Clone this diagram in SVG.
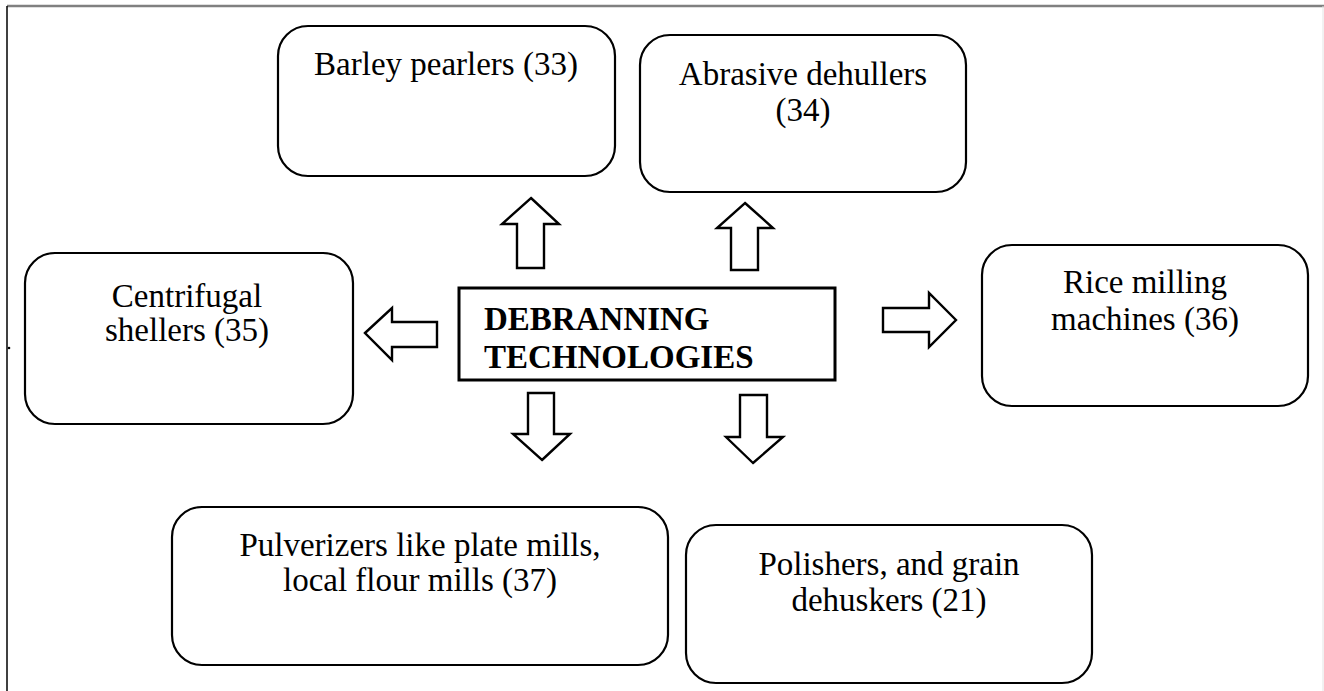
<svg xmlns="http://www.w3.org/2000/svg" width="1324" height="691" viewBox="0 0 1324 691">
<style>
.box{fill:#fff;stroke:#000;stroke-width:2.2}
.core{fill:#fff;stroke:#000;stroke-width:3}
.arr{fill:#fff;stroke:#000;stroke-width:2.4;stroke-linejoin:miter}
.t{font-family:"Liberation Serif","Times New Roman",serif;font-size:33px;fill:#000;text-anchor:middle}
.b{font-family:"Liberation Serif","Times New Roman",serif;font-size:33px;font-weight:bold;fill:#000}
</style>
<rect width="1324" height="691" fill="#fff"/>
<g id="frame">
<line x1="7" y1="6" x2="1324" y2="6" stroke="#808080" stroke-width="2.5"/>
<line x1="7" y1="6" x2="7" y2="691" stroke="#000" stroke-width="1.5"/>
<line x1="1323" y1="6" x2="1323" y2="691" stroke="#e4e4e4" stroke-width="1"/>
<circle cx="9" cy="348" r="1.3" fill="#000"/>
</g>
<g id="connectors">
<path class="arr" d="M531,198 L559,224 L544,224 L544,268 L517,268 L517,224 L502,224 Z"/>
<path class="arr" d="M745,203 L773,228 L758,228 L758,270 L731,270 L731,228 L717,228 Z"/>
<path class="arr" d="M365,333 L392,308 L392,322 L437,322 L437,347 L392,347 L392,360 Z"/>
<path class="arr" d="M956,320 L929,293 L929,308 L883,308 L883,332 L929,332 L929,347 Z"/>
<path class="arr" d="M542,460 L570,434 L554,434 L554,393 L528,393 L528,434 L513,434 Z"/>
<path class="arr" d="M753,463 L783,437 L767,437 L767,395 L740,395 L740,437 L726,437 Z"/>
</g>
<g id="barley">
<rect class="box" x="278" y="26" width="337" height="150" rx="30"/>
<text class="t" x="446" y="75">Barley pearlers (33)</text>
</g>
<g id="abrasive">
<rect class="box" x="640" y="35" width="326" height="157" rx="30"/>
<text class="t" x="803" y="85">Abrasive dehullers</text>
<text class="t" x="803" y="121">(34)</text>
</g>
<g id="centrifugal">
<rect class="box" x="25" y="253" width="328" height="171" rx="30"/>
<text class="t" x="187" y="307">Centrifugal</text>
<text class="t" x="187" y="341">shellers (35)</text>
</g>
<g id="center">
<rect class="core" x="459" y="288" width="376" height="92"/>
<text class="b" x="484" y="330">DEBRANNING</text>
<text class="b" x="484" y="368">TECHNOLOGIES</text>
</g>
<g id="rice">
<rect class="box" x="982" y="245" width="326" height="161" rx="30"/>
<text class="t" x="1145" y="293">Rice milling</text>
<text class="t" x="1145" y="330">machines (36)</text>
</g>
<g id="pulverizers">
<rect class="box" x="172" y="507" width="496" height="158" rx="30"/>
<text class="t" x="420" y="556">Pulverizers like plate mills,</text>
<text class="t" x="420" y="591">local flour mills (37)</text>
</g>
<g id="polishers">
<rect class="box" x="686" y="525" width="406" height="158" rx="30"/>
<text class="t" x="889" y="575">Polishers, and grain</text>
<text class="t" x="889" y="611">dehuskers (21)</text>
</g>
</svg>
